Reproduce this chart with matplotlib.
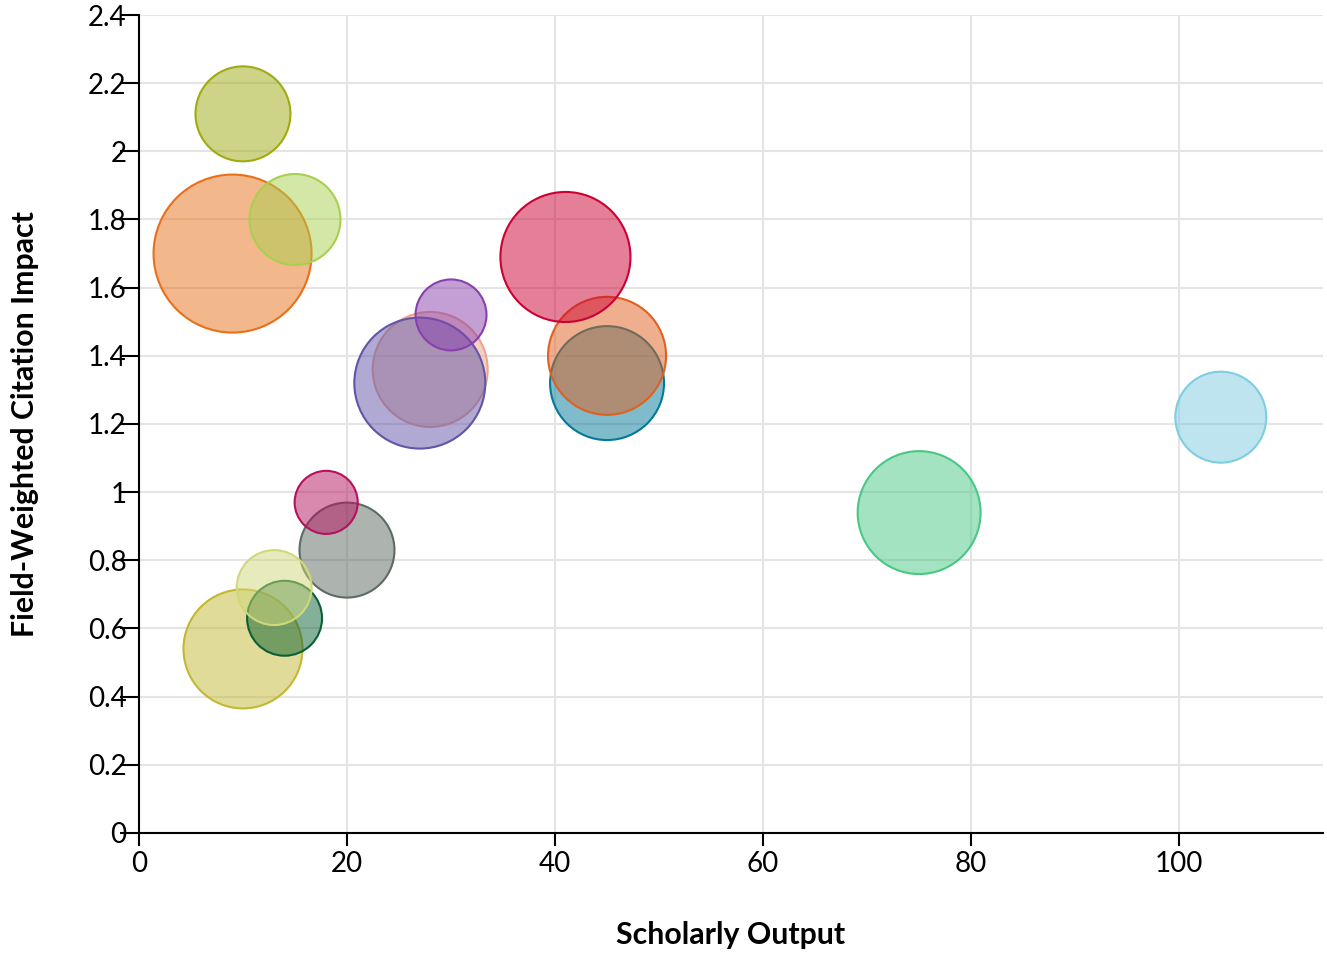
import numpy as np
import matplotlib
matplotlib.use("Agg")
from matplotlib import pyplot as plt
from matplotlib.colors import to_rgba
from matplotlib.ticker import FuncFormatter

plt.rcParams['font.family'] = ['Lato', 'DejaVu Sans']

# Datos (x, y, y valor del tamano de la burbuja)
scholarly_output = [45, 45, 9, 15, 10, 28, 27, 30, 41, 104, 75, 20, 18, 10, 14, 13]
fwci = [1.32, 1.40, 1.70, 1.80, 2.11, 1.36, 1.32, 1.52, 1.69, 1.22, 0.94, 0.83, 0.97, 0.54, 0.63, 0.72]
bubble_value = [33.6, 36.0, 64.0, 21.6, 23.5, 34.2, 44.2, 13.3, 43.6, 21.6, 39.0, 23.5, 10.6, 36.6, 14.8, 14.8]
colores = ['#017999', '#e06020', '#e8701a', '#a8d050', '#9fab10', '#eca48c', '#6055a8', '#8840ac',
           '#cc0033', '#7fcde0', '#48c884', '#5d6b63', '#b5125e', '#c3b832', '#0a6032', '#d0d87a']

fig = plt.figure(figsize=(13.27, 9.56), dpi=100)
ax = fig.add_axes([0.1047, 0.1287, 0.8921, 0.8556])

# diametro en puntos del marcador (descontando medio borde)
diam = [2 * (10 * np.sqrt(v) - 1) * 0.72 for v in bubble_value]
sizes = [d ** 2 for d in diam]

caras = [to_rgba(c, 0.5) for c in colores]
ax.scatter(scholarly_output, fwci, s=sizes, facecolors=caras, edgecolors=colores,
           linewidths=1.5, zorder=3)

ax.set_xlim(0, 113.8)
ax.set_ylim(0, 2.4)
ax.set_xticks([0, 20, 40, 60, 80, 100])
ax.set_yticks(np.arange(0, 2.41, 0.2))
ax.yaxis.set_major_formatter(FuncFormatter(lambda v, p: '{:g}'.format(round(v, 1))))

ax.grid(True, color='#e5e5e5', linewidth=1.5, zorder=0)
ax.set_axisbelow(True)

for lado in ['top', 'right']:
    ax.spines[lado].set_visible(False)
for lado in ['left', 'bottom']:
    ax.spines[lado].set_linewidth(1.5)
    ax.spines[lado].set_color('black')

ax.tick_params(axis='y', length=14, width=1.5, pad=-5, labelsize=20)
ax.tick_params(axis='x', length=9, width=1.5, pad=4, labelsize=20)

ax.set_xlabel('Scholarly Output', fontsize=21.8, fontweight='bold', labelpad=32)
ax.set_ylabel('Field-Weighted Citation Impact', fontsize=21.8, fontweight='bold', labelpad=35)

fig.savefig('out.png', dpi=100)
